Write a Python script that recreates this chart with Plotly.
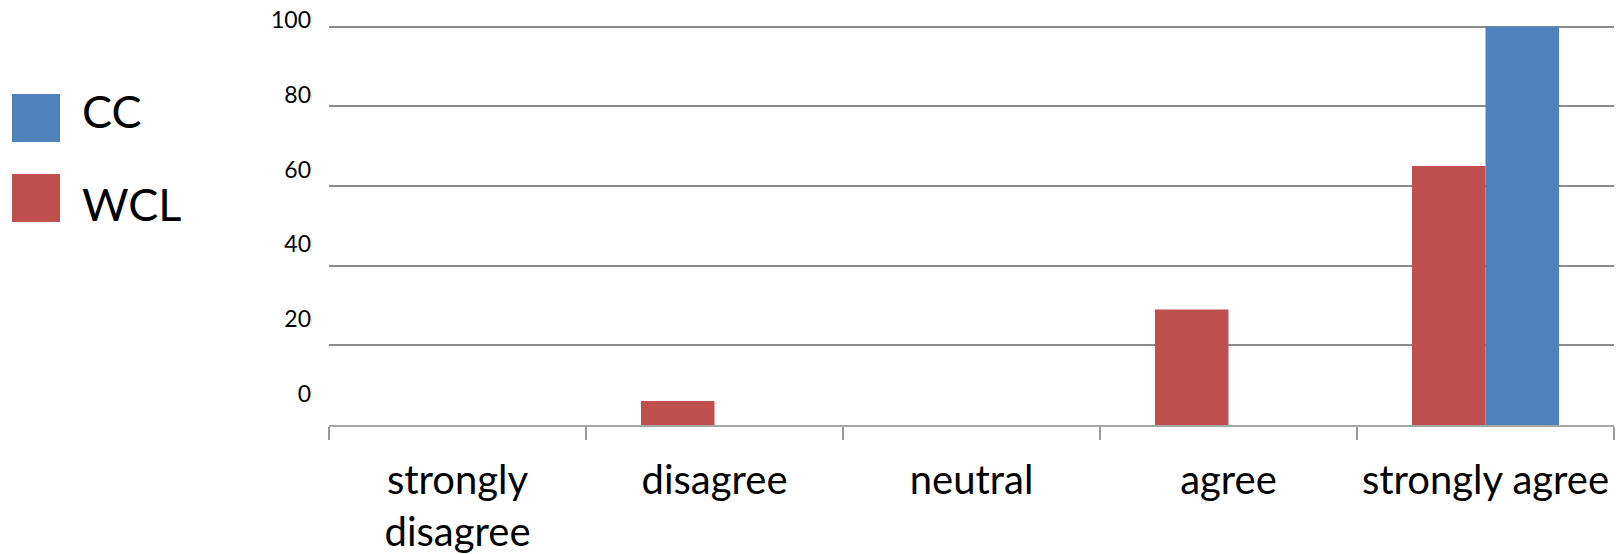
import plotly.graph_objects as go

categories = ["strongly<br>disagree", "disagree", "neutral", "agree", "strongly agree"]
wcl_values = [0, 6, 0, 29, 65]
cc_values = [0, 0, 0, 0, 100]
series_names = ["CC", "WCL"]
series_colors = ["#4F81BD", "#C0504D"]
y_tick_values = [0, 20, 40, 60, 80, 100]

W, H = 1622, 554
L, R, T, B = 329, 8, 10, 129
PW, PH = W - L - R, H - T - B

def px_x(p):
    return (p - L) / PW

def px_y(p):
    return (H - B - p) / PH

FONT = "Lato"

fig = go.Figure()
fig.add_trace(go.Bar(x=categories, y=wcl_values, name="WCL", marker_color=series_colors[1],
                     marker_line_width=0, showlegend=False))
fig.add_trace(go.Bar(x=categories, y=cc_values, name="CC", marker_color=series_colors[0],
                     marker_line_width=0, showlegend=False))
fig.add_trace(go.Scatter(x=[], y=[], yaxis="y2", showlegend=False))

px_per_unit = 3.985
top_val = (H - B - T) / px_per_unit
lab_per_unit = 3.74
lab0 = 394
y2_top = (lab0 - T) / lab_per_unit
y2_bot = (lab0 - (H - B)) / lab_per_unit

fig.update_layout(
    width=W, height=H,
    margin=dict(l=L, r=R, t=T, b=B, pad=0, autoexpand=False),
    paper_bgcolor="white", plot_bgcolor="white",
    barmode="group", bargap=0.428, bargroupgap=0,
    font=dict(family=FONT, color="#000000"),
    xaxis=dict(
        type="category", tickson="boundaries", ticks="outside", ticklen=13,
        tickwidth=2, tickcolor="#9a9a9a", showgrid=False, tickangle=0, automargin=False,
        showline=True, linecolor="#a6a6a6", linewidth=2,
        tickfont=dict(family=FONT, size=40, color="#000000"),
        ticklabelstandoff=19,
    ),
    yaxis=dict(
        range=[0, top_val], tickvals=y_tick_values, showticklabels=False,
        showgrid=True, gridcolor="#8c8c8c", gridwidth=1.5, automargin=False,
        zeroline=False, showline=False, ticks="",
    ),
    yaxis2=dict(
        overlaying="y", side="left", range=[y2_bot, y2_top], automargin=False,
        tickvals=y_tick_values, showgrid=False, zeroline=False, showline=False,
        ticks="", tickfont=dict(family=FONT, size=23, color="#000000"),
        ticklabelstandoff=17,
    ),
)

legend_rows = [(series_names[0], series_colors[0], 94, 111), (series_names[1], series_colors[1], 174, 204)]
for name, color, sq_top, text_mid in legend_rows:
    fig.add_shape(type="rect", xref="paper", yref="paper",
                  x0=px_x(12), x1=px_x(60), y0=px_y(sq_top + 48), y1=px_y(sq_top),
                  fillcolor=color, line_width=0)
    fig.add_annotation(text=name, xref="paper", yref="paper", x=px_x(80), y=px_y(text_mid),
                       xanchor="left", yanchor="middle", showarrow=False,
                       font=dict(family=FONT, size=45, color="#000000"))

fig.write_html("out.html", config={"displayModeBar": False},
               post_script="document.body.style.margin='0';")
